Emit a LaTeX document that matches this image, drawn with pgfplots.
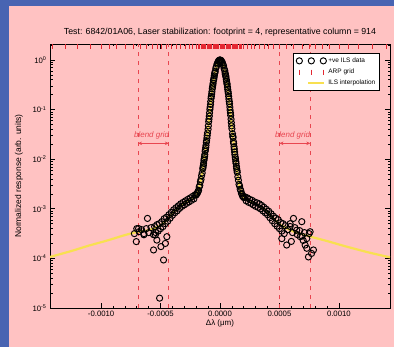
\documentclass[border=0pt]{standalone}
\usepackage{pgfplots}
\pgfplotsset{compat=1.18}
\usepackage{fontspec}
\setmainfont{Liberation Sans}
\usetikzlibrary{arrows.meta}
\definecolor{slideblue}{RGB}{72,100,178}
\definecolor{panelpink}{RGB}{255,194,194}
\definecolor{arpred}{RGB}{228,40,50}
\definecolor{dashred}{RGB}{232,70,80}
\definecolor{ilsyellow}{RGB}{248,224,80}
\pgfplotsset{
  threemarks/.style={legend image code/.code={\draw[##1, only marks] plot coordinates {(0bp,0bp) (12bp,0bp) (24bp,0bp)};}},
  shortline/.style={legend image code/.code={\draw[##1] (9bp,0bp) -- (25bp,0bp);}},
}
\begin{document}
\begin{tikzpicture}[x=1bp,y=1bp]
\useasboundingbox (0,0) rectangle (394,347);
\fill[slideblue] (0,0) rectangle (394,347);
\fill[panelpink] (9,0) rectangle (394,341);
\begin{axis}[
  at={(50bp,39bp)}, anchor=south west,
  scale only axis, width=340bp, height=264bp,
  xmin=-0.00143, xmax=0.00143,
  ymode=log, ymin=1e-5, ymax=2.1,
  scaled x ticks=false,
  xtick={-0.001,-0.0005,0,0.0005,0.001},
  xticklabels={-0.0010,-0.0005,0.0000,0.0005,0.0010},
  minor x tick num=4,
  ytick={1e-5,1e-4,1e-3,1e-2,1e-1,1},
  minor ytick={2e-5,3e-5,4e-5,5e-5,6e-5,7e-5,8e-5,9e-5,
               2e-4,3e-4,4e-4,5e-4,6e-4,7e-4,8e-4,9e-4,
               2e-3,3e-3,4e-3,5e-3,6e-3,7e-3,8e-3,9e-3,
               2e-2,3e-2,4e-2,5e-2,6e-2,7e-2,8e-2,9e-2,
               0.2,0.3,0.4,0.5,0.6,0.7,0.8,0.9,2},
  yticklabels={10\textsuperscript{-5},10\textsuperscript{-4},10\textsuperscript{-3},10\textsuperscript{-2},10\textsuperscript{-1},10\textsuperscript{0}},
  tick align=inside,
  major tick length=5bp, minor tick length=2.5bp,
  tick style={black, line width=0.6bp},
  axis line style={black, line width=0.8bp},
  tick label style={font=\fontsize{7.8}{9}\selectfont},
  title={Test: 6842/01A06, Laser stabilization: footprint = 4, representative column = 914},
  title style={font=\fontsize{8.8}{10}\selectfont, at={(0.5,1)}, anchor=south, inner sep=0pt, yshift=2bp},
  xlabel={Δλ (μm)},
  xlabel style={font=\fontsize{8}{10}\selectfont, at={(axis description cs:0.5,-0.0587)}, anchor=center},
  ylabel={Normalized response (arb. units)},
  ylabel style={font=\fontsize{8.5}{10}\selectfont, at={(axis description cs:-0.0912,0.5)}, anchor=center},
  legend style={at={(axis description cs:0.9706,0.966)}, anchor=north east,
    font=\fontsize{6.5}{7}\selectfont, draw=black, fill=white, inner sep=2.5pt,
    row sep=1pt, line width=0.6bp},
  legend cell align=left,
]
% blend grid boundaries
\addplot[forget plot, dashred, line width=0.8bp, dash pattern=on 4bp off 5bp] coordinates {(-0.00069,1e-5) (-0.00069,2.1)};
\addplot[forget plot, dashred, line width=0.8bp, dash pattern=on 4bp off 5bp] coordinates {(-0.00043,1e-5) (-0.00043,2.1)};
\addplot[forget plot, dashred, line width=0.8bp, dash pattern=on 4bp off 5bp] coordinates {(0.00050,1e-5) (0.00050,2.1)};
\addplot[forget plot, dashred, line width=0.8bp, dash pattern=on 4bp off 5bp] coordinates {(0.00076,1e-5) (0.00076,2.1)};
% +ve ILS data
\addplot[black, only marks, mark=o, mark size=3.1bp, mark options={black, line width=0.95bp}, threemarks]
table[row sep=\\] {
x y\\
-0.000200 0.00190\\ -0.000195 0.00201\\ -0.000190 0.00208\\ -0.000185 0.00222\\
-0.000180 0.00236\\ -0.000175 0.00275\\ -0.000170 0.00296\\ -0.000165 0.00352\\
-0.000160 0.00391\\ -0.000155 0.00466\\ -0.000150 0.00528\\ -0.000145 0.00640\\
-0.000140 0.00748\\ -0.000135 0.00950\\ -0.000130 0.0113\\ -0.000125 0.0144\\
-0.000120 0.0171\\ -0.000115 0.0218\\ -0.000110 0.0265\\ -0.000105 0.0338\\
-0.000100 0.0400\\ -0.000095 0.0570\\ -0.000090 0.0738\\ -0.000085 0.1010\\
-0.000080 0.127\\ -0.000075 0.169\\ -0.000070 0.206\\ -0.000065 0.263\\
-0.000060 0.311\\ -0.000055 0.386\\ -0.000050 0.440\\ -0.000045 0.532\\
-0.000040 0.595\\ -0.000035 0.686\\ -0.000030 0.741\\ -0.000025 0.828\\
-0.000020 0.872\\ -0.000015 0.938\\ -0.000010 0.962\\ -0.000005 0.995\\
0 1.000\\
0.000005 0.990\\ 0.000010 0.972\\ 0.000015 0.925\\ 0.000020 0.884\\
0.000025 0.812\\ 0.000030 0.757\\ 0.000035 0.668\\ 0.000040 0.610\\
0.000045 0.516\\ 0.000050 0.452\\ 0.000055 0.374\\ 0.000060 0.321\\
0.000065 0.255\\ 0.000070 0.212\\ 0.000075 0.163\\ 0.000080 0.131\\
0.000085 0.0976\\ 0.000090 0.0762\\ 0.000095 0.0549\\ 0.000100 0.0413\\
0.000105 0.0326\\ 0.000110 0.0273\\ 0.000115 0.0207\\ 0.000120 0.0160\\
0.000125 0.0124\\ 0.000130 0.0101\\ 0.000135 0.00824\\ 0.000140 0.00652\\
0.000145 0.00545\\ 0.000150 0.00441\\ 0.000155 0.00377\\ 0.000160 0.00311\\
0.000165 0.00286\\ 0.000170 0.00248\\ 0.000175 0.00232\\ 0.000180 0.00206\\
0.000185 0.00198\\ 0.000190 0.00179\\ 0.000195 0.00176\\ 0.000200 0.00168\\
-0.000098 0.0470\\ -0.000093 0.0640\\ -0.000088 0.0860\\ -0.000083 0.1120\\
-0.000078 0.1460\\ -0.000073 0.1850\\ -0.000068 0.2300\\ -0.000063 0.2850\\
-0.000108 0.0300\\ -0.000118 0.0190\\ -0.000128 0.0124\\ -0.000138 0.00830\\
-0.000058 0.3400\\ -0.000053 0.4050\\ -0.000048 0.4800\\ -0.000043 0.5500\\
-0.000113 0.0235\\ -0.000123 0.0155\\ -0.000133 0.0102\\ -0.000143 0.00690\\
0.000098 0.0470\\ 0.000093 0.0640\\ 0.000088 0.0860\\ 0.000083 0.1120\\
0.000078 0.1460\\ 0.000073 0.1850\\ 0.000068 0.2300\\ 0.000063 0.2850\\
0.000108 0.0290\\ 0.000118 0.0178\\ 0.000128 0.0110\\ 0.000138 0.00720\\
0.000058 0.3400\\ 0.000053 0.4050\\ 0.000048 0.4800\\ 0.000043 0.5500\\
0.000113 0.0225\\ 0.000123 0.0140\\ 0.000133 0.00900\\ 0.000143 0.00590\\
-0.00021 0.00191\\ -0.00022 0.00158\\ -0.00023 0.00178\\ -0.00024 0.00148\\
-0.00025 0.00166\\ -0.00026 0.00138\\ -0.00027 0.00155\\ -0.00028 0.00129\\
-0.00029 0.00145\\ -0.00030 0.00120\\ -0.00031 0.00135\\ -0.00032 0.00112\\
-0.00033 0.00126\\ -0.00034 0.00102\\ -0.00035 0.00115\\ -0.00036 0.000912\\
-0.00037 0.00105\\ -0.00038 0.000832\\ -0.00039 0.000955\\ -0.00040 0.000741\\
-0.00041 0.000851\\ -0.00042 0.000646\\ -0.00043 0.000759\\ -0.00044 0.000562\\
-0.00045 0.000676\\ -0.00046 0.000501\\ -0.00047 0.000631\\ -0.00048 0.000437\\
-0.00049 0.000550\\ -0.00050 0.000398\\ -0.00051 0.000501\\ -0.00052 0.000355\\
-0.00053 0.000479\\ -0.00054 0.000331\\ -0.00055 0.000437\\ -0.00056 0.000302\\
-0.00058 0.000417\\ -0.00060 0.000331\\ -0.00062 0.000398\\ -0.00064 0.000316\\
-0.00066 0.000380\\ -0.00068 0.000347\\ -0.00070 0.000398\\ -0.00072 0.000316\\
-0.000704 0.000218\\ -0.00061 0.00064\\ -0.000559 0.000148\\ -0.000497 0.000173\\
-0.000475 0.000093\\ -0.000508 0.0000158\\ -0.000447 0.000274\\ -0.000531 0.000234\\
-0.000544 0.000296\\ -0.000685 0.000400\\ -0.000640 0.000300\\ -0.000460 0.000200\\
0.00021 0.00174\\ 0.00022 0.00145\\ 0.00023 0.00166\\ 0.00024 0.00135\\
0.00025 0.00155\\ 0.00026 0.00129\\ 0.00027 0.00148\\ 0.00028 0.00120\\
0.00029 0.00138\\ 0.00030 0.00112\\ 0.00031 0.00132\\ 0.00032 0.00107\\
0.00033 0.00126\\ 0.00034 0.00100\\ 0.00035 0.00117\\ 0.00036 0.000912\\
0.00037 0.00107\\ 0.00038 0.000832\\ 0.00039 0.000977\\ 0.00040 0.000759\\
0.00041 0.000891\\ 0.00042 0.000661\\ 0.00043 0.000794\\ 0.00044 0.000575\\
0.00045 0.000708\\ 0.00046 0.000501\\ 0.00047 0.000646\\ 0.00048 0.000447\\
0.00049 0.000603\\ 0.00050 0.000398\\ 0.00051 0.000525\\ 0.00052 0.000355\\
0.00053 0.000501\\ 0.00054 0.000316\\ 0.00055 0.000457\\ 0.00057 0.000380\\
0.00059 0.000501\\ 0.00061 0.000331\\ 0.00063 0.000417\\ 0.00065 0.000302\\
0.00067 0.000363\\ 0.00069 0.000282\\ 0.00071 0.000331\\ 0.00073 0.000251\\
0.00075 0.000316\\
0.000561 0.000186\\ 0.000520 0.000250\\ 0.000618 0.000640\\ 0.000688 0.000550\\
0.000758 0.000345\\ 0.000716 0.000186\\ 0.000744 0.000107\\ 0.000786 0.000148\\
0.000770 0.000126\\ 0.000674 0.000275\\ 0.000590 0.000440\\ 0.000645 0.000370\\
0.000700 0.000230\\ 0.000730 0.000160\\ 0.000600 0.000220\\
};
\addlegendentry{+ve ILS data}
% ARP grid
\addplot[arpred, only marks, mark=|, mark size=2.5bp, mark options={arpred, line width=0.7bp}, threemarks]
table[row sep=\\] {
x y\\
-0.00141 1.87\\ -0.00130 1.87\\ -0.00120 1.87\\ -0.00109 1.87\\ -0.00100 1.87\\
-0.00093 1.87\\ -0.00087 1.87\\ -0.00080 1.87\\ -0.00073 1.87\\ -0.00067 1.87\\
-0.00062 1.87\\ -0.00057 1.87\\ -0.00053 1.87\\ -0.00049 1.87\\ -0.00045 1.87\\
-0.00041 1.87\\ -0.00037 1.87\\ -0.00033 1.87\\ -0.00029 1.87\\ -0.00026 1.87\\
-0.00023 1.87\\ -0.00020 1.87\\
-0.00018 1.87\\ -0.00017 1.87\\ -0.00016 1.87\\ -0.00015 1.87\\ -0.00014 1.87\\
-0.00013 1.87\\ -0.00012 1.87\\ -0.00011 1.87\\ -0.00010 1.87\\ -0.00009 1.87\\
-0.00008 1.87\\ -0.00007 1.87\\ -0.00006 1.87\\ -0.00005 1.87\\ -0.00004 1.87\\
-0.00003 1.87\\ -0.00002 1.87\\ -0.00001 1.87\\ 0 1.87\\ 0.00001 1.87\\
0.00002 1.87\\ 0.00003 1.87\\ 0.00004 1.87\\ 0.00005 1.87\\ 0.00006 1.87\\
0.00007 1.87\\ 0.00008 1.87\\ 0.00009 1.87\\ 0.00010 1.87\\ 0.00011 1.87\\
0.00012 1.87\\ 0.00013 1.87\\ 0.00014 1.87\\ 0.00015 1.87\\ 0.00016 1.87\\
0.00017 1.87\\ 0.00018 1.87\\
0.00020 1.87\\ 0.00023 1.87\\ 0.00026 1.87\\ 0.00029 1.87\\ 0.00033 1.87\\
0.00037 1.87\\ 0.00041 1.87\\ 0.00045 1.87\\ 0.00050 1.87\\ 0.00056 1.87\\
0.00062 1.87\\ 0.00069 1.87\\ 0.00075 1.87\\ 0.00080 1.87\\ 0.00086 1.87\\
0.00092 1.87\\ 0.00100 1.87\\ 0.00108 1.87\\ 0.00116 1.87\\ 0.00128 1.87\\
0.00140 1.87\\
};
\addlegendentry{ARP grid}
% ILS interpolation
\addplot[ilsyellow, line width=2.2bp, smooth, tension=0.4, no marks, shortline]
table[row sep=\\] {
x y\\
-0.00143 0.000107\\ -0.00125 0.000141\\ -0.00110 0.000182\\ -0.00095 0.000229\\
-0.00080 0.000295\\ -0.00070 0.000339\\ -0.00060 0.000372\\ -0.00052 0.000437\\
-0.00047 0.000525\\ -0.00043 0.000661\\ -0.00039 0.000851\\ -0.00035 0.00105\\
-0.00032 0.00120\\ -0.00029 0.00135\\ -0.00026 0.00148\\ -0.00023 0.00166\\
-0.00020 0.00186\\ -0.00019 0.00204\\ -0.00018 0.00240\\ -0.00017 0.00302\\
-0.00016 0.00398\\ -0.00015 0.00537\\ -0.00014 0.00759\\ -0.00013 0.0115\\
-0.00012 0.0174\\ -0.00011 0.0269\\ -0.00010 0.0407\\ -0.00009 0.0750\\
-0.00008 0.129\\ -0.00007 0.209\\ -0.00006 0.316\\ -0.00005 0.447\\
-0.00004 0.603\\ -0.00003 0.750\\ -0.00002 0.879\\ -0.00001 0.968\\
0 1.000\\
0.00001 0.968\\ 0.00002 0.879\\ 0.00003 0.750\\ 0.00004 0.603\\
0.00005 0.447\\ 0.00006 0.316\\ 0.00007 0.209\\ 0.00008 0.129\\
0.00009 0.0750\\ 0.00010 0.0407\\ 0.00011 0.0269\\ 0.00012 0.0158\\
0.00013 0.0100\\ 0.00014 0.00661\\ 0.00015 0.00447\\ 0.00016 0.00316\\
0.00017 0.00251\\ 0.00018 0.00209\\ 0.00019 0.00182\\ 0.00020 0.00170\\
0.00023 0.00155\\ 0.00026 0.00141\\ 0.00030 0.00126\\ 0.00034 0.00112\\
0.00038 0.000955\\ 0.00042 0.000759\\ 0.00046 0.000603\\ 0.00050 0.000490\\
0.00055 0.000417\\ 0.00062 0.000347\\ 0.00070 0.000302\\ 0.00076 0.000275\\
0.00090 0.000224\\ 0.00106 0.000174\\ 0.00125 0.000132\\ 0.00143 0.000105\\
};
\addlegendentry{ILS interpolation}
% blend grid annotations
\node[text=dashred, font=\fontsize{8}{9}\selectfont\itshape] at (axis cs:-0.000575,0.0308) {blend grid};
\node[text=dashred, font=\fontsize{8}{9}\selectfont\itshape] at (axis cs:0.000610,0.0308) {blend grid};
\draw[dashred, line width=0.7bp, {Stealth[length=4bp,width=3.5bp]}-{Stealth[length=4bp,width=3.5bp]}] (axis cs:-0.00069,0.0209) -- (axis cs:-0.00043,0.0209);
\draw[dashred, line width=0.7bp, {Stealth[length=4bp,width=3.5bp]}-{Stealth[length=4bp,width=3.5bp]}] (axis cs:0.00050,0.0209) -- (axis cs:0.00076,0.0209);
\end{axis}
\end{tikzpicture}
\end{document}
